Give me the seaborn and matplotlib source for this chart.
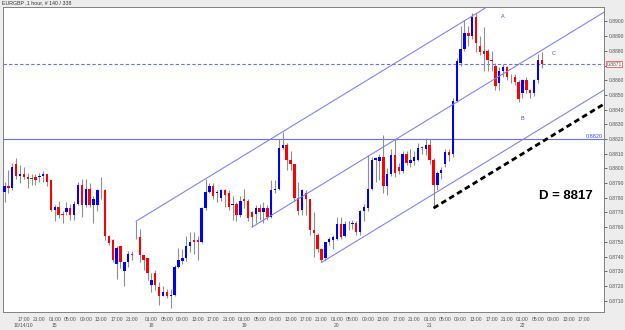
import numpy as np
import pandas as pd
import seaborn as sns
import matplotlib.pyplot as plt
import matplotlib.transforms as mtransforms

# EURGBP 1 hour bars (Thu 14 Oct 2010 12:00 -> Fri 22 Oct 06:00)
opens = [0.8784, 0.8788, 0.8787, 0.8803, 0.8795, 0.8796, 0.8794, 0.8793, 0.8794, 0.8794,
         0.8795, 0.8796, 0.8792, 0.8772, 0.8774, 0.8769, 0.8770, 0.8773, 0.8768, 0.8776,
         0.8789, 0.8775, 0.8786, 0.8775, 0.8775, 0.8786, 0.8785, 0.8754, 0.8751, 0.8735,
         0.8747, 0.8730, 0.8736, 0.8742, 0.8753, 0.8753, 0.8741, 0.8739, 0.8721, 0.8729,
         0.8719, 0.8713, 0.8716, 0.8713, 0.8714, 0.8733, 0.8737, 0.8739, 0.8747, 0.8751,
         0.8751, 0.8750, 0.8773, 0.8784, 0.8788, 0.8783, 0.8780, 0.8785, 0.8783, 0.8775,
         0.8776, 0.8768, 0.8779, 0.8778, 0.8770, 0.8769, 0.8773, 0.8770, 0.8773, 0.8767,
         0.8785, 0.8786, 0.8814, 0.8816, 0.8806, 0.8803, 0.8780, 0.8772, 0.8783, 0.8779,
         0.8758, 0.8755, 0.8745, 0.8739, 0.8750, 0.8751, 0.8752, 0.8762, 0.8754, 0.8762,
         0.8762, 0.8763, 0.8757, 0.8771, 0.8773, 0.8786, 0.8806, 0.8805, 0.8808, 0.8788,
         0.8796, 0.8809, 0.8801, 0.8798, 0.8810, 0.8804, 0.8805, 0.8806, 0.8814, 0.8813,
         0.8816, 0.8806, 0.8789, 0.8797, 0.8803, 0.8811, 0.8810, 0.8846, 0.8872, 0.8881,
         0.8892, 0.8890, 0.8903, 0.8883, 0.8880, 0.8880, 0.8874, 0.8870, 0.8858, 0.8866,
         0.8869, 0.8862, 0.8862, 0.8859, 0.8851, 0.8860, 0.8853, 0.8851, 0.8860, 0.8874]
highs = [0.8791, 0.8799, 0.8804, 0.8807, 0.8802, 0.8801, 0.8797, 0.8796, 0.8796, 0.8797,
         0.8798, 0.8796, 0.8792, 0.8775, 0.8778, 0.8771, 0.8777, 0.8776, 0.8778, 0.8791,
         0.8793, 0.8793, 0.8790, 0.8781, 0.8786, 0.8794, 0.8786, 0.8755, 0.8752, 0.8747,
         0.8747, 0.8736, 0.8744, 0.8744, 0.8764, 0.8759, 0.8741, 0.8739, 0.8729, 0.8731,
         0.8723, 0.8720, 0.8718, 0.8718, 0.8734, 0.8746, 0.8745, 0.8754, 0.8757, 0.8757,
         0.8754, 0.8774, 0.8793, 0.8790, 0.8790, 0.8785, 0.8786, 0.8786, 0.8785, 0.8781,
         0.8777, 0.8781, 0.8786, 0.8779, 0.8771, 0.8775, 0.8776, 0.8777, 0.8775, 0.8792,
         0.8792, 0.8820, 0.8825, 0.8817, 0.8812, 0.8803, 0.8791, 0.8786, 0.8785, 0.8779,
         0.8770, 0.8756, 0.8746, 0.8750, 0.8753, 0.8755, 0.8767, 0.8767, 0.8764, 0.8764,
         0.8765, 0.8764, 0.8772, 0.8776, 0.8809, 0.8808, 0.8808, 0.8810, 0.8823, 0.8800,
         0.8813, 0.8820, 0.8804, 0.8812, 0.8812, 0.8813, 0.8812, 0.8817, 0.8815, 0.8821,
         0.8820, 0.8807, 0.8798, 0.8801, 0.8813, 0.8813, 0.8848, 0.8875, 0.8897, 0.8901,
         0.8897, 0.8906, 0.8906, 0.8890, 0.8896, 0.8881, 0.8880, 0.8872, 0.8869, 0.8871,
         0.8870, 0.8864, 0.8864, 0.8860, 0.8861, 0.8862, 0.8854, 0.8861, 0.8878, 0.8879]
lows = [0.8777, 0.8783, 0.8785, 0.8793, 0.8790, 0.8793, 0.8787, 0.8789, 0.8789, 0.8791,
        0.8791, 0.8788, 0.8771, 0.8764, 0.8766, 0.8763, 0.8768, 0.8765, 0.8765, 0.8775,
        0.8767, 0.8774, 0.8774, 0.8763, 0.8771, 0.8779, 0.8751, 0.8748, 0.8736, 0.8725,
        0.8732, 0.8720, 0.8733, 0.8738, 0.8752, 0.8736, 0.8731, 0.8724, 0.8716, 0.8717,
        0.8707, 0.8713, 0.8712, 0.8705, 0.8713, 0.8732, 0.8735, 0.8737, 0.8743, 0.8742,
        0.8738, 0.8749, 0.8772, 0.8783, 0.8779, 0.8777, 0.8778, 0.8774, 0.8772, 0.8765,
        0.8764, 0.8767, 0.8773, 0.8764, 0.8760, 0.8763, 0.8765, 0.8763, 0.8765, 0.8766,
        0.8783, 0.8785, 0.8813, 0.8799, 0.8799, 0.8778, 0.8768, 0.8768, 0.8768, 0.8755,
        0.8740, 0.8743, 0.8736, 0.8737, 0.8748, 0.8745, 0.8751, 0.8752, 0.8753, 0.8758,
        0.8759, 0.8755, 0.8755, 0.8764, 0.8771, 0.8785, 0.8791, 0.8792, 0.8783, 0.8782,
        0.8795, 0.8794, 0.8796, 0.8797, 0.8802, 0.8801, 0.8802, 0.8805, 0.8810, 0.8809,
        0.8803, 0.8773, 0.8785, 0.8793, 0.8801, 0.8805, 0.8808, 0.8845, 0.8870, 0.8880,
        0.8883, 0.8888, 0.8879, 0.8877, 0.8866, 0.8866, 0.8866, 0.8853, 0.8853, 0.8862,
        0.8860, 0.8858, 0.8857, 0.8845, 0.8848, 0.8851, 0.8848, 0.8849, 0.8858, 0.8868]
closes = [0.8788, 0.8787, 0.8801, 0.8795, 0.8796, 0.8794, 0.8793, 0.8793, 0.8792, 0.8795,
          0.8796, 0.8791, 0.8772, 0.8774, 0.8768, 0.8768, 0.8773, 0.8768, 0.8776, 0.8789,
          0.8775, 0.8786, 0.8775, 0.8779, 0.8785, 0.8786, 0.8754, 0.8749, 0.8738, 0.8746,
          0.8736, 0.8736, 0.8742, 0.8741, 0.8753, 0.8741, 0.8738, 0.8729, 0.8724, 0.8721,
          0.8713, 0.8716, 0.8713, 0.8714, 0.8733, 0.8738, 0.8739, 0.8747, 0.8750, 0.8750,
          0.8750, 0.8773, 0.8784, 0.8788, 0.8781, 0.8784, 0.8785, 0.8782, 0.8774, 0.8776,
          0.8768, 0.8778, 0.8778, 0.8766, 0.8767, 0.8773, 0.8770, 0.8773, 0.8767, 0.8785,
          0.8786, 0.8814, 0.8816, 0.8806, 0.8803, 0.8780, 0.8771, 0.8785, 0.8779, 0.8758,
          0.8756, 0.8745, 0.8738, 0.8750, 0.8752, 0.8753, 0.8762, 0.8753, 0.8762, 0.8762,
          0.8763, 0.8757, 0.8771, 0.8774, 0.8786, 0.8806, 0.8807, 0.8808, 0.8788, 0.8796,
          0.8809, 0.8797, 0.8798, 0.8810, 0.8804, 0.8806, 0.8808, 0.8814, 0.8814, 0.8816,
          0.8806, 0.8789, 0.8797, 0.8799, 0.8811, 0.8809, 0.8846, 0.8873, 0.8881, 0.8892,
          0.8890, 0.8903, 0.8885, 0.8879, 0.8878, 0.8874, 0.8873, 0.8856, 0.8866, 0.8869,
          0.8862, 0.8862, 0.8859, 0.8847, 0.8860, 0.8853, 0.8851, 0.8860, 0.8874, 0.8871]

level_price = 0.8820
# trend channel: slope from bar 34 high to bar 72 high, parallel lines from these anchors
slope_from, slope_to = 34, 72
channel_anchors = [(34, 'high'), (64, 'low'), (82, 'low')]
dashed_anchor = (111, 'low')
letter_marks = [('A', 129, 0.8903), ('B', 134, 0.8834), ('C', 142, 0.8878)]
d_text = 'D = 8817'

sns.set_style('white')
plt.rcParams['font.family'] = ['Liberation Sans', 'DejaVu Sans']

n = len(opens)
n_slots = 156
times = list(pd.date_range('2010-10-14 12:00', '2010-10-15 22:00', freq='h')) + \
    list(pd.date_range('2010-10-17 22:00', periods=n_slots - 35, freq='h'))

df = pd.DataFrame({'bar': np.arange(n), 'open': opens, 'high': highs,
                   'low': lows, 'close': closes})
df['bottom'] = df[['open', 'close']].min(axis=1)
df['height'] = (df['close'] - df['open']).abs()
df['color'] = np.where(df['close'] > df['open'], '#0000ff', '#ff0000')
df.loc[df['height'] < 0.00001, 'color'] = '#505050'
df['height'] = df['height'].clip(lower=0.000025)

fig = plt.figure(figsize=(6.25, 3.3), dpi=100, facecolor='#ededed')
ax = fig.add_axes([3 / 625, 1 - 312 / 330, 601 / 625, 305 / 330])
ax.set_facecolor('white')

xmin, xmax = -0.4, 155.1
ax.set_xlim(xmin, xmax)
ax.set_ylim(0.87023, 0.89098)

# wicks and bodies
ax.vlines(df['bar'], df['low'], df['high'], color='#8f8f8f', lw=0.8, zorder=2)
ax.bar(df['bar'], df['height'], bottom=df['bottom'], width=0.62,
       color=df['color'], zorder=3, linewidth=0)

# horizontal levels
ax.axhline(level_price, color='#6b6bff', lw=0.8, zorder=1)
ax.axhline(closes[-1], color='#6b6bff', lw=0.8, ls=(0, (3, 2)), zorder=1)

# channel lines
slope = (highs[slope_to] - highs[slope_from]) / (slope_to - slope_from)
src = {'high': highs, 'low': lows}
for i, kind in channel_anchors:
    p0 = src[kind][i]
    ax.plot([i, xmax], [p0, p0 + slope * (xmax - i)], color='#7a7aff', lw=0.75, zorder=4)
i, kind = dashed_anchor
p0 = src[kind][i]
ax.plot([i, xmax], [p0, p0 + slope * (xmax - i)], color='black', lw=2.0,
        ls=(0, (2, 1.3)), zorder=5)

for letter, bx, by in letter_marks:
    ax.text(bx, by, letter, color='#4a4acc', fontsize=4, ha='center', va='center')
ax.text(145.3, 0.87813, d_text, fontsize=9.5, fontweight='bold', color='black',
        ha='center', va='center')
ax.text(xmax - 0.2, level_price + 0.00003, f'{level_price:.4f}', color='#4646ff',
        fontsize=4, ha='right', va='bottom')

# right price axis (the current price label replaces the nearest level)
ax.yaxis.tick_right()
yt = np.round(np.arange(0.8710, 0.89005, 0.0010), 4)
ax.set_yticks(yt)
ax.set_yticklabels(['' if abs(v - closes[-1]) < 0.0005 else f'{v:.4f}' for v in yt])
ax.tick_params(axis='y', labelsize=3.6, colors='#555555', length=2.5, width=0.6, pad=1)
trans = mtransforms.blended_transform_factory(ax.transAxes, ax.transData)
ax.text(1.004, closes[-1], f'{closes[-1]:.4f}', transform=trans, fontsize=3.6,
        color='#555555', va='center', ha='left',
        bbox=dict(boxstyle='square,pad=0.15', fc='white', ec='#ff5050', lw=0.6))

# time axis
pos, labs = [], []
first = True
for k, t in enumerate(times):
    if k < 3 or k > 152 or t.hour not in (1, 5, 9, 13, 17, 21):
        continue
    lab = t.strftime('%H:%M')
    if first:
        lab += '\n' + t.strftime('%m/%d/%y')
        first = False
    elif t.hour == 1:
        lab += '\n' + str(t.day)
    pos.append(k)
    labs.append(lab)
ax.set_xticks(pos)
ax.set_xticklabels(labs, linespacing=1.35, va='top')
ax.tick_params(axis='x', labelsize=3.6, colors='#555555', length=2, width=0.6, pad=1.5)

for s in ax.spines.values():
    s.set_color('#808080')
    s.set_linewidth(0.7)

fig.text(2 / 625, 1 - 0.5 / 330, 'EURGBP ,1 hour, # 140 / 338', fontsize=3.8,
         color='#333333', va='top', ha='left')

fig.savefig('out.png', dpi=100, facecolor=fig.get_facecolor())
